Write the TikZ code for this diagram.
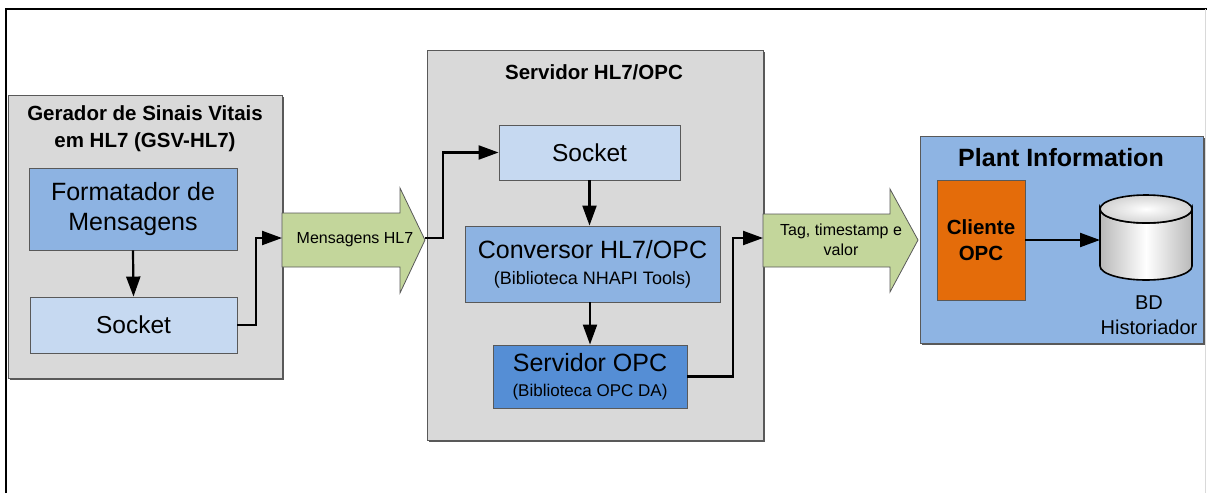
\documentclass[tikz,border=0pt]{standalone}
\usepackage{fontspec}
\setmainfont{Liberation Sans}
\usetikzlibrary{arrows.meta,shadows}

\definecolor{grpfill}{HTML}{D9D9D9}
\definecolor{paleblue}{HTML}{C6D9F1}
\definecolor{midblue}{HTML}{8DB3E2}
\definecolor{deepblue}{HTML}{558ED5}
\definecolor{plantblue}{HTML}{8EB4E3}
\definecolor{clientorange}{HTML}{E46C0A}
\definecolor{flowgreen}{HTML}{C3D69B}
\definecolor{edgegray}{HTML}{595959}

\newcommand\fsz[2]{\fontsize{#1}{#2}\selectfont}

\tikzset{
  group/.style={draw=edgegray, line width=0.9pt, fill=grpfill, inner sep=0pt,
    drop shadow={shadow xshift=1.5pt, shadow yshift=-1.5pt, fill=black!65, opacity=1}},
  block/.style={draw=edgegray, line width=0.9pt, inner sep=0pt, align=center,
    drop shadow={shadow xshift=1pt, shadow yshift=-1pt, fill=black!45, opacity=1}},
  title/.style={font=\bfseries\fsz{20.5}{27}, align=center, inner sep=0pt},
  flow/.style={draw=edgegray, line width=0.8pt, fill=flowgreen},
  link/.style={line width=2.2pt, -{Triangle[length=20pt,width=14pt]}},
}

\begin{document}
\begin{tikzpicture}[x=1pt,y=-1pt]
\useasboundingbox (0,0) rectangle (1207,493);

% page frame
\draw[line width=1.8pt] (6,493) -- (6,9) -- (1207,9);
\draw[gray!30, line width=1pt] (1205.5,9) -- (1205.5,493);

% ---------- signal generator ----------
\node[group, minimum width=274, minimum height=283] (gsv) at (145,236.5) {};
\node[title] (gsvtitle) at (145,129) {Gerador de Sinais Vitais\\em HL7 (GSV-HL7)};
\node[block, fill=midblue, minimum width=208, minimum height=82, font=\fsz{25}{30}] (fmt) at (133,209) {Formatador de\\Mensagens};
\node[block, fill=paleblue, minimum width=207, minimum height=56, font=\fsz{24.5}{28}] (sock1) at (133.5,325) {Socket};

% ---------- message flow arrow ----------
\draw[flow] (282,213) -- (400,213) -- (400,188) -- (425,240) -- (400,293) -- (400,267) -- (282,267) -- cycle;
\coordinate (msgtail) at (282,238);
\coordinate (msgtip) at (425,238);
\node[font=\fsz{16}{18}, inner sep=0pt] (msg) at (355,240) {Mensagens HL7};

% ---------- HL7/OPC server ----------
\node[group, minimum width=336, minimum height=390] (srv) at (595,245) {};
\node[title] (srvtitle) at (594,72) {Servidor HL7/OPC};
\node[block, fill=paleblue, minimum width=181, minimum height=55, font=\fsz{24.5}{28}] (sock2) at (589.5,152.5) {Socket};
\node[block, fill=midblue, minimum width=255, minimum height=76] (conv) at (592.5,264)
  {{\fsz{25}{28}Conversor HL7/OPC}\\[12pt]{\fsz{18}{18}(Biblioteca NHAPI Tools)}};
\node[block, fill=deepblue, minimum width=194, minimum height=63] (opc) at (590,376.5)
  {{\fsz{25}{28}Servidor OPC}\\[12pt]{\fsz{17}{18}(Biblioteca OPC DA)}};

% ---------- tag flow arrow ----------
\draw[flow] (763,214) -- (890,214) -- (890,189) -- (918,240) -- (890,292) -- (890,267) -- (763,267) -- cycle;
\coordinate (tagtail) at (763,238);
\node[font=\fsz{16}{20}, align=center, inner sep=0pt] (tag) at (841,240) {Tag, timestamp e\\valor};

% ---------- plant information ----------
\node[draw=edgegray, line width=0.9pt, fill=plantblue, minimum width=283, minimum height=207, inner sep=0pt,
  drop shadow={shadow xshift=1.5pt, shadow yshift=-1.5pt, fill=black!65, opacity=1}] (pi) at (1061.5,239.5) {};
\node[font=\bfseries\fsz{25}{26}, inner sep=0pt] (pititle) at (1061,158) {Plant Information};
\node[block, fill=clientorange, minimum width=88, minimum height=120, font=\bfseries\fsz{20.5}{26}] (cli) at (981,240) {Cliente\\OPC};

% historian database cylinder
\node[minimum width=92, minimum height=85, inner sep=0pt] (db) at (1146,237.5) {};
\path[left color=gray!55, right color=gray!55, middle color=white, draw=black, line width=1.6pt]
  (1100,209) -- (1100,266) arc[start angle=180, end angle=0, x radius=46, y radius=14]
  -- (1192,209) arc[start angle=0, end angle=180, x radius=46, y radius=14] -- cycle;
\path[inner color=white, outer color=gray!35, draw=black, line width=1.6pt]
  (1146,209) ellipse[x radius=46, y radius=14];
\node[font=\fsz{20}{25}, align=center, inner sep=0pt] (dblabel) at (1149,315) {BD\\Historiador};

% ---------- connectors ----------
\draw[link] (fmt.south) -- (sock1.north);
\draw[link] (sock1.east) -- (256,325) -- (256,238) -- (msgtail);
\draw[link] (msgtip) -- (443,238) -- (443,152.5) -- (sock2.west);
\draw[link] (sock2.south) -- (sock2.south |- conv.north);
\draw[link] (opc.north |- conv.south) -- (opc.north);
\draw[link] (opc.east) -- (733,376.5) -- (733,238) -- (tagtail);
\draw[link] (cli.east) -- (1100,240);
\end{tikzpicture}
\end{document}
